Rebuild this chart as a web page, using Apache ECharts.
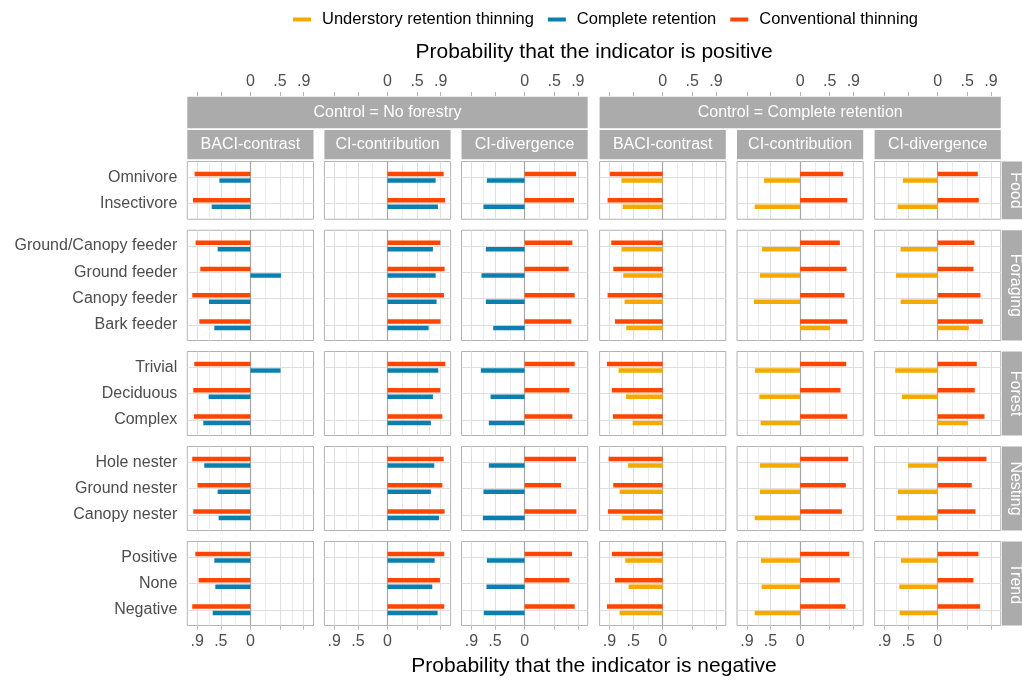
<!DOCTYPE html>
<html><head><meta charset="utf-8">
<script src="https://cdn.jsdelivr.net/npm/echarts@6/dist/echarts.min.js"></script>
<style>html,body{margin:0;padding:0;background:#fff}#chart{width:1022px;height:684px}</style>
</head><body><div id="chart"></div>
<script>
// ---------- data ----------
const rowFacets = ['Food', 'Foraging', 'Forest', 'Nesting', 'Trend'];
const rowCategories = [
  ['Omnivore', 'Insectivore'],
  ['Ground/Canopy feeder', 'Ground feeder', 'Canopy feeder', 'Bark feeder'],
  ['Trivial', 'Deciduous', 'Complex'],
  ['Hole nester', 'Ground nester', 'Canopy nester'],
  ['Positive', 'None', 'Negative']
];
const controls = ['Control = No forestry', 'Control = Complete retention'];
const metrics = ['BACI-contrast', 'CI-contribution', 'CI-divergence'];
const seriesNames = ['Understory retention thinning', 'Complete retention', 'Conventional thinning'];

// signed probabilities: positive = P(indicator positive), negative = -P(indicator negative)
const nfBaciConventional   = [-0.943,-0.972, -0.927,-0.847,-0.983,-0.864, -0.949,-0.966,-0.955, -0.983,-0.893,-0.966, -0.932,-0.876,-0.983];
const nfBaciComplete       = [-0.525,-0.655, -0.554, 0.520,-0.700,-0.610,  0.510,-0.706,-0.797, -0.780,-0.554,-0.537, -0.610,-0.593,-0.638];
const nfContribConventional= [ 0.949, 0.972,  0.893, 0.966, 0.955, 0.898,  0.977, 0.893, 0.927,  0.949, 0.927, 0.966,  0.960, 0.887, 0.960];
const nfContribComplete    = [ 0.814, 0.853,  0.768, 0.814, 0.830, 0.695,  0.859, 0.768, 0.734,  0.791, 0.734, 0.870,  0.797, 0.757, 0.847];
const nfDivConventional    = [ 0.870, 0.836,  0.808, 0.746, 0.847, 0.791,  0.847, 0.757, 0.808,  0.870, 0.616, 0.876,  0.802, 0.757, 0.847];
const nfDivComplete        = [-0.638,-0.695, -0.655,-0.729,-0.655,-0.531, -0.740,-0.576,-0.605, -0.605,-0.695,-0.706, -0.638,-0.644,-0.689];
const crBaciConventional   = [-0.893,-0.932, -0.870,-0.836,-0.932,-0.808, -0.943,-0.859,-0.842, -0.915,-0.836,-0.927, -0.859,-0.808,-0.943];
const crBaciUnderstory     = [-0.695,-0.678, -0.695,-0.667,-0.644,-0.616, -0.746,-0.621,-0.508, -0.588,-0.729,-0.684, -0.633,-0.576,-0.729];
const crContribConventional= [ 0.729, 0.797,  0.672, 0.785, 0.751, 0.797,  0.780, 0.684, 0.797,  0.814, 0.774, 0.706,  0.830, 0.672, 0.768];
const crContribUnderstory  = [-0.610,-0.768, -0.644,-0.678,-0.780, 0.508, -0.763,-0.689,-0.667, -0.678,-0.678,-0.768, -0.661,-0.650,-0.768];
const crDivConventional    = [ 0.678, 0.695,  0.621, 0.605, 0.723, 0.763,  0.661, 0.627, 0.791,  0.825, 0.576, 0.638,  0.689, 0.605, 0.718];
const crDivUnderstory      = [-0.588,-0.678, -0.627,-0.706,-0.627, 0.525, -0.718,-0.605, 0.514, -0.503,-0.672,-0.700, -0.621,-0.650,-0.644];

const majorBreaks = [-0.9, -0.5, 0, 0.5, 0.9];
const minorBreaks = [-0.7, -0.25, 0.25, 0.7];
const topTickValues = [0, 0.5, 0.9];
const topTickLabels = ['0', '.5', '.9'];
const bottomTickValues = [-0.9, -0.5, 0];
const bottomTickLabels = ['.9', '.5', '0'];

// ---------- styling / layout ----------
const colors = {
  'Understory retention thinning': '#F6AA00',
  'Complete retention': '#0B80B0',
  'Conventional thinning': '#FF4500'
};
const FONT = "'Liberation Sans', Arial, sans-serif";
const columns = [
  { conv: nfBaciConventional,    other: nfBaciComplete,       otherName: 'Complete retention' },
  { conv: nfContribConventional, other: nfContribComplete,    otherName: 'Complete retention' },
  { conv: nfDivConventional,     other: nfDivComplete,        otherName: 'Complete retention' },
  { conv: crBaciConventional,    other: crBaciUnderstory,     otherName: 'Understory retention thinning' },
  { conv: crContribConventional, other: crContribUnderstory,  otherName: 'Understory retention thinning' },
  { conv: crDivConventional,     other: crDivUnderstory,      otherName: 'Understory retention thinning' }
];
const colLeft = [187.3, 324.4, 461.5, 599.6, 737, 874.6];
const panelW = 126.2;
const unit = 26.25;
const firstTop = 161.5, rowGap = 11;
const X = 1.067;
const stripFill = '#ababab';

const fmt = (vals, labs) => v => {
  const k = vals.findIndex(t => Math.abs(t - v) < 1e-6);
  return k >= 0 ? labs[k] : '';
};

const rowTop = [];
let tt = firstTop;
rowCategories.forEach(c => { rowTop.push(tt); tt += (c.length + 0.2) * unit + rowGap; });
const rowStart = [];
let acc = 0;
rowCategories.forEach(c => { rowStart.push(acc); acc += c.length; });

const grids = [], xAxes = [], yAxes = [], series = [], graphics = [];

rowCategories.forEach((cats, i) => {
  const n = cats.length;
  const h = (n + 0.2) * unit;
  columns.forEach((col, j) => {
    // outer panel grid (grid lines, border, x axis)
    const outer = grids.length;
    grids.push({ left: colLeft[j], top: rowTop[i], width: panelW, height: h, show: true,
      borderColor: '#b3b3b3', borderWidth: 1, backgroundColor: 'transparent', outerBoundsMode: 'none' });
    const xa = { gridIndex: outer, type: 'value', min: -X, max: X, show: false, splitLine: { show: false } };
    if (i === 0) {
      Object.assign(xa, { show: true, position: 'top', offset: rowTop[0] - 96,
        axisLine: { show: false },
        axisTick: { show: true, length: 4, customValues: majorBreaks, lineStyle: { color: '#b3b3b3' } },
        axisLabel: { show: true, customValues: topTickValues, formatter: fmt(topTickValues, topTickLabels),
          margin: 6, fontSize: 16, color: '#4d4d4d', fontFamily: FONT } });
    } else if (i === rowCategories.length - 1) {
      Object.assign(xa, { show: true, position: 'bottom', offset: 0,
        axisLine: { show: false },
        axisTick: { show: true, length: 4, customValues: majorBreaks, lineStyle: { color: '#b3b3b3' } },
        axisLabel: { show: true, customValues: bottomTickValues, formatter: fmt(bottomTickValues, bottomTickLabels),
          margin: 8, fontSize: 16, color: '#4d4d4d', fontFamily: FONT } });
    }
    xAxes.push(xa);
    yAxes.push({ gridIndex: outer, type: 'value', min: 0.4, max: n + 0.6, inverse: true, show: false, splitLine: { show: false } });
    const ml = [];
    minorBreaks.forEach(v => ml.push({ xAxis: v, lineStyle: { color: '#ebebeb', width: 1, type: 'solid' } }));
    majorBreaks.forEach(v => ml.push({ xAxis: v, lineStyle: { color: '#dedede', width: 1, type: 'solid' } }));
    cats.forEach((c, k) => ml.push({ yAxis: k + 1, lineStyle: { color: '#dedede', width: 1, type: 'solid' } }));
    ml.push({ xAxis: 0, lineStyle: { color: '#a6a6a6', width: 1.2, type: 'solid' } });
    series.push({ type: 'line', xAxisIndex: outer, yAxisIndex: outer, data: [], silent: true, z: 1,
      markLine: { silent: true, z: 1, symbol: ['none', 'none'], label: { show: false }, animation: false, data: ml } });

    // inner grid: category band area (ggplot-like 0.6 padding)
    const inner = grids.length;
    grids.push({ left: colLeft[j], top: rowTop[i] + 0.1 * unit, width: panelW, height: n * unit, show: false, outerBoundsMode: 'none' });
    xAxes.push({ gridIndex: inner, type: 'value', min: -X, max: X, show: false });
    const ya = { gridIndex: inner, type: 'category', data: cats, inverse: true,
      axisLine: { show: false }, splitLine: { show: false },
      axisTick: { show: j === 0, alignWithLabel: true, length: 5, lineStyle: { color: '#b3b3b3' } },
      axisLabel: { show: j === 0, interval: 0, margin: 10, fontSize: 16, color: '#4d4d4d', fontFamily: FONT } };
    yAxes.push(ya);
    const s0 = rowStart[i];
    series.push({ type: 'bar', name: 'Conventional thinning', xAxisIndex: inner, yAxisIndex: inner,
      data: col.conv.slice(s0, s0 + n), barWidth: 4.4, barGap: '50%', z: 2, silent: true,
      itemStyle: { color: colors['Conventional thinning'] } });
    series.push({ type: 'bar', name: col.otherName, xAxisIndex: inner, yAxisIndex: inner,
      data: col.other.slice(s0, s0 + n), barWidth: 4.4, barGap: '50%', z: 2, silent: true,
      itemStyle: { color: colors[col.otherName] } });

    // sub strip (metric)
    if (i === 0) {
      graphics.push({ type: 'rect', shape: { x: colLeft[j], y: 130, width: panelW, height: 29.3 }, style: { fill: stripFill }, z: 10 });
      graphics.push({ type: 'text', x: colLeft[j] + panelW / 2, y: 145, z: 11,
        style: { text: metrics[j % 3], fill: '#fff', font: '16px ' + FONT, align: 'center', verticalAlign: 'middle' } });
    }
  });
  // right strip
  graphics.push({ type: 'rect', shape: { x: 1002, y: rowTop[i], width: 22, height: h }, style: { fill: stripFill }, z: 10 });
  graphics.push({ type: 'text', x: 1015.5, y: rowTop[i] + h / 2, rotation: -Math.PI / 2, z: 11,
    style: { text: rowFacets[i], fill: '#fff', font: '16px ' + FONT, align: 'center', verticalAlign: 'middle' } });
});

// top-level control strips
[[0, 2], [3, 5]].forEach((r, k) => {
  const x0 = colLeft[r[0]], x1 = colLeft[r[1]] + panelW;
  graphics.push({ type: 'rect', shape: { x: x0, y: 96.7, width: x1 - x0, height: 31.6 }, style: { fill: stripFill }, z: 10 });
  graphics.push({ type: 'text', x: (x0 + x1) / 2, y: 112.5, z: 11,
    style: { text: controls[k], fill: '#fff', font: '16px ' + FONT, align: 'center', verticalAlign: 'middle' } });
});
// axis titles
const midX = (colLeft[0] + colLeft[5] + panelW) / 2;
graphics.push({ type: 'text', x: midX, y: 52, z: 11,
  style: { text: 'Probability that the indicator is positive', fill: '#000', font: '21px ' + FONT, align: 'center', verticalAlign: 'middle' } });
graphics.push({ type: 'text', x: midX, y: 666, z: 11,
  style: { text: 'Probability that the indicator is negative', fill: '#000', font: '21px ' + FONT, align: 'center', verticalAlign: 'middle' } });

const chart = echarts.init(document.getElementById('chart'), null, { renderer: 'canvas' });
chart.setOption({
  animation: false,
  backgroundColor: '#fff',
  legend: { top: 6, left: 288, data: seriesNames, icon: 'rect', itemWidth: 18, itemHeight: 4, itemGap: 14,
    selectedMode: false, textStyle: { fontSize: 16.5, color: '#000', fontFamily: FONT, padding: [0, 0, 0, 6] } },
  grid: grids, xAxis: xAxes, yAxis: yAxes, series: series, graphic: { elements: graphics }
});
</script></body></html>
